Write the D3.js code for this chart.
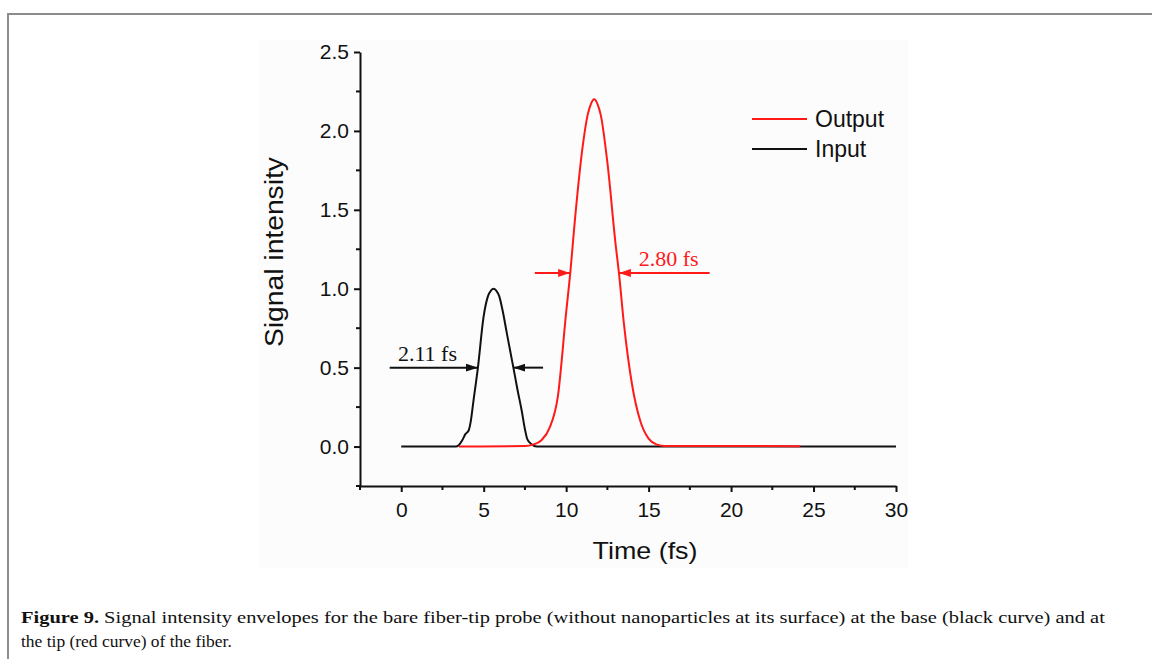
<!DOCTYPE html>
<html>
<head>
<meta charset="utf-8">
<script src="https://cdn.jsdelivr.net/npm/d3@7"></script>
<style>
  html, body { margin: 0; padding: 0; background: #fff; }
  svg { display: block; }
</style>
</head>
<body>
<script>
'use strict';

// (time in fs, intensity)
const inputTime = [0, 3.3, 3.5, 3.7, 3.9, 4.08, 4.2, 4.38, 4.65, 4.99, 5.25, 5.45, 5.6, 5.75, 5.95, 6.15, 6.4, 6.6, 6.8, 7.05, 7.3, 7.5, 7.65, 7.9, 8.2, 30];
const inputValue = [0, 0, 0.01, 0.04, 0.08, 0.1, 0.15, 0.29, 0.5, 0.82, 0.95, 0.99, 1.0, 0.99, 0.95, 0.86, 0.72, 0.61, 0.5, 0.36, 0.23, 0.11, 0.045, 0.015, 0, 0];

const outputTime = [3.5, 7.5, 8.0, 8.5, 9.0, 9.5, 10.0, 10.25, 10.5, 11.0, 11.3, 11.5, 11.7, 11.9, 12.1, 12.5, 13.0, 13.2, 13.5, 14.0, 14.5, 15.0, 15.5, 16.0, 20.0, 24.2];
const outputValue = [0, 0.003, 0.012, 0.04, 0.12, 0.32, 0.85, 1.1, 1.4, 1.9, 2.1, 2.17, 2.2, 2.17, 2.1, 1.8, 1.28, 1.1, 0.78, 0.39, 0.16, 0.05, 0.012, 0.003, 0.004, 0.002];

const xTicks = [0, 5, 10, 15, 20, 25, 30];
const xMinor = [-2.5, 2.5, 7.5, 12.5, 17.5, 22.5, 27.5];
const yTicks = [0.0, 0.5, 1.0, 1.5, 2.0, 2.5];
const yMinor = [-0.25, 0.25, 0.75, 1.25, 1.75, 2.25];

const seriesNames = ["Output", "Input"];
const seriesColors = ["#ff1a1a", "#111111"];

// FWHM annotations: [label, level, leftFrom, leftTo, rightFrom, rightTo, labelT]
const fwhmInput = ["2.11 fs", 0.5, -0.7, 4.65, 8.6, 6.8, -0.2];
const fwhmOutput = ["2.80 fs", 1.1, 8.1, 10.24, 18.7, 13.2, 14.4];

const captionBold = "Figure 9.";
const captionLine1 = " Signal intensity envelopes for the bare fiber-tip probe (without nanoparticles at its surface) at the base (black curve) and at";
const captionLine2 = "the tip (red curve) of the fiber.";

(function () {
  const W = 1152, H = 659;
  const svg = d3.select('body').append('svg')
    .attr('width', W)
    .attr('height', H);

  // page frame
  svg.append('path')
    .attr('d', `M8,${H} L8,14 L${W},14`)
    .attr('fill', 'none')
    .attr('stroke', '#8c8c8c')
    .attr('stroke-width', 2);

  // faint figure background
  svg.append('rect')
    .attr('x', 258).attr('y', 40)
    .attr('width', 650).attr('height', 528)
    .attr('fill', '#fcfcfc');

  const x = d3.scaleLinear().domain([-2.5, 30]).range([360, 896]);
  const y = d3.scaleLinear().domain([-0.25, 2.5]).range([486, 52]);

  const font = "Arial, 'Liberation Sans', sans-serif";

  // x axis
  const xAxis = svg.append('g')
    .attr('transform', 'translate(0,486)')
    .call(d3.axisBottom(x).tickValues(xTicks).tickFormat(d3.format('d')).tickSize(6).tickSizeOuter(0).tickPadding(10));
  xAxis.append('g').selectAll('line')
    .data(xMinor)
    .enter()
    .append('line')
    .attr('x1', d => x(d)).attr('x2', d => x(d))
    .attr('y1', 0).attr('y2', 4)
    .attr('stroke', '#111').attr('stroke-width', 2);

  // y axis
  const yAxis = svg.append('g')
    .attr('transform', 'translate(360,0)')
    .call(d3.axisLeft(y).tickValues(yTicks).tickFormat(d3.format('.1f')).tickSize(6).tickSizeOuter(0).tickPadding(5));
  yAxis.append('g').selectAll('line')
    .data(yMinor)
    .enter()
    .append('line')
    .attr('x1', -4).attr('x2', 0)
    .attr('y1', d => y(d)).attr('y2', d => y(d))
    .attr('stroke', '#111').attr('stroke-width', 2);

  [xAxis, yAxis].forEach(a => {
    a.select('.domain').attr('stroke', '#111').attr('stroke-width', 2);
    a.selectAll('.tick line').attr('stroke', '#111').attr('stroke-width', 2);
    a.selectAll('.tick text')
      .attr('fill', '#111')
      .style('font-family', font)
      .style('font-size', '21px');
  });

  // axis titles
  svg.append('text')
    .attr('x', 645).attr('y', 559)
    .attr('text-anchor', 'middle')
    .style('font-family', font)
    .style('font-size', '24px')
    .attr('fill', '#111')
    .attr('textLength', 105)
    .attr('lengthAdjust', 'spacingAndGlyphs')
    .text('Time (fs)');

  svg.append('text')
    .attr('transform', 'translate(283,252)rotate(-90)')
    .attr('text-anchor', 'middle')
    .style('font-family', font)
    .style('font-size', '25px')
    .attr('fill', '#111')
    .attr('textLength', 190)
    .attr('lengthAdjust', 'spacingAndGlyphs')
    .text('Signal intensity');

  // curves
  const line = d3.line()
    .x(d => x(d[0]))
    .y(d => y(d[1]))
    .curve(d3.curveMonotoneX);

  const inputData = inputTime.map((t, i) => [t, inputValue[i]]);
  const outputData = outputTime.map((t, i) => [t, outputValue[i]]);

  svg.append('path')
    .datum(inputData)
    .attr('fill', 'none')
    .attr('stroke', seriesColors[1])
    .attr('stroke-width', 2)
    .attr('d', line);

  svg.append('path')
    .datum(outputData)
    .attr('fill', 'none')
    .attr('stroke', seriesColors[0])
    .attr('stroke-width', 2)
    .attr('d', line);

  // arrow markers
  const defs = svg.append('defs');
  seriesColors.forEach((c, i) => {
    defs.append('marker')
      .attr('id', 'arrow' + i)
      .attr('viewBox', '0 0 12 8')
      .attr('refX', 12).attr('refY', 4)
      .attr('markerWidth', 12).attr('markerHeight', 8)
      .attr('markerUnits', 'userSpaceOnUse')
      .attr('orient', 'auto')
      .append('path')
      .attr('d', 'M0,0 L12,4 L0,8 Z')
      .attr('fill', c);
  });

  function drawFwhm(a, colorIdx) {
    const c = seriesColors[colorIdx];
    const g = svg.append('g');
    [[a[2], a[3]], [a[4], a[5]]].forEach(p => {
      g.append('line')
        .attr('x1', x(p[0])).attr('x2', x(p[1]))
        .attr('y1', y(a[1])).attr('y2', y(a[1]))
        .attr('stroke', c).attr('stroke-width', 2)
        .attr('marker-end', `url(#arrow${colorIdx})`);
    });
    g.append('text')
      .attr('x', x(a[6])).attr('y', y(a[1]) - 7)
      .style('font-family', "'Times New Roman', 'Liberation Serif', serif")
      .style('font-size', '22px')
      .attr('fill', c)
      .text(a[0]);
  }
  drawFwhm(fwhmInput, 1);
  drawFwhm(fwhmOutput, 0);

  // legend
  const legend = svg.append('g').attr('transform', 'translate(752,119)');
  seriesNames.forEach((name, i) => {
    const row = legend.append('g').attr('transform', `translate(0,${i * 30})`);
    row.append('line')
      .attr('x1', 0).attr('x2', 55)
      .attr('stroke', seriesColors[i]).attr('stroke-width', 2);
    row.append('text')
      .attr('x', 63).attr('y', 8)
      .style('font-family', font)
      .style('font-size', '23px')
      .attr('fill', '#111')
      .text(name);
  });

  // caption, stretched to the measured line widths
  function captionLine(parts, yPos, right) {
    const g = svg.append('g');
    const t = g.append('text')
      .style('font-family', "'Liberation Serif', 'Times New Roman', serif")
      .style('font-size', '17px')
      .attr('fill', '#111');
    parts.forEach(p => {
      t.append('tspan').attr('font-weight', p[1] ? 'bold' : 'normal').text(p[0]);
    });
    const w = t.node().getComputedTextLength();
    g.attr('transform', `translate(21,${yPos}) scale(${(right - 21) / w},1)`);
  }
  captionLine([[captionBold, true], [captionLine1, false]], 623, 1106);
  captionLine([[captionLine2, false]], 647, 232);
})();
</script>
</body>
</html>
